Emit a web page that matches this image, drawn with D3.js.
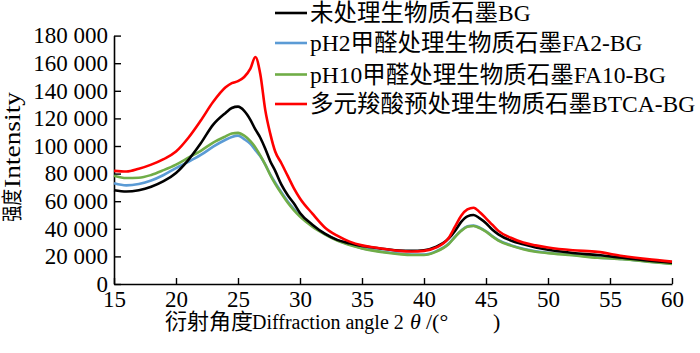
<!DOCTYPE html>
<html>
<head>
<meta charset="utf-8">
<script src="https://cdn.jsdelivr.net/npm/d3@7"></script>
<style>
  body { margin: 0; background: #fff; }
  svg text { font-family: "Liberation Serif", "Noto Sans CJK SC", serif; fill: #000; }
</style>
</head>
<body>
<div id="chart"></div>
<script>
// ---- data ----
const angles = [15, 16, 17, 18, 19, 20, 21, 22, 23, 24, 24.5, 25, 25.5, 26, 26.4, 26.8, 27.2, 27.6, 28, 28.5, 29, 29.5, 30,
  31, 32, 33, 34, 35, 36, 37, 38, 39, 40, 41, 42, 42.5, 43, 43.5, 44, 44.5, 45, 45.5, 46, 47, 48, 49, 50, 52, 54, 56, 58, 60];

const bg = [68000, 67000, 68000, 70500, 74500, 80500, 90000, 102000, 115500, 124000, 127500, 128500, 125500, 119000, 112000, 106000, 98000, 89000, 82000, 72000, 64500, 58500, 51500,
  43000, 36500, 32000, 29500, 27500, 26300, 25200, 24300, 24000, 24500, 27000, 33000, 38500, 45000, 49000, 50000, 47500, 44000, 39500, 36000, 31500, 28800, 26500, 24800, 22500, 21000, 19000, 17000, 15500];

const fa2 = [73000, 71500, 72500, 75000, 79000, 84000, 88500, 93500, 99500, 104500, 106500, 107500, 105000, 101500, 97000, 92500, 86500, 79500, 73500, 66500, 60000, 54500, 49500,
  42000, 36300, 31800, 28600, 26000, 24300, 23000, 22000, 21400, 21400, 23800, 29300, 34300, 38800, 41800, 42300, 40800, 38200, 34800, 31800, 28100, 25500, 23700, 22700, 21000, 19300, 18100, 16400, 14800];

const fa10 = [78500, 76800, 77000, 79000, 82500, 86500, 91500, 96500, 102500, 107000, 109000, 109500, 107500, 103500, 99000, 93000, 86500, 79000, 72500, 65500, 59000, 53500, 48800,
  41500, 36000, 31500, 28300, 25800, 24000, 22600, 21600, 21000, 21000, 23500, 29000, 34000, 38500, 41500, 42000, 40500, 37900, 34500, 31500, 27800, 25200, 23400, 22400, 20800, 19000, 17900, 16200, 14500];

const btca = [82000, 81500, 83500, 86500, 90500, 96000, 106000, 118500, 132000, 142500, 145500, 147000, 150000, 156000, 164500, 152000, 126000, 109000, 96000, 87500, 78500, 69500, 62000,
  51000, 41000, 35000, 30700, 28000, 26500, 25200, 24000, 23500, 24000, 26500, 33500, 41500, 49500, 54000, 55300, 52000, 47600, 43000, 38500, 33500, 30000, 28000, 26500, 24500, 23300, 20300, 18000, 16200];

const seriesNames = ["未处理生物质石墨BG", "pH2甲醛处理生物质石墨FA2-BG", "pH10甲醛处理生物质石墨FA10-BG", "多元羧酸预处理生物质石墨BTCA-BG"];
const seriesColors = ["#000000", "#5b9bd5", "#70ad47", "#ff0000"];
const seriesValues = [bg, fa2, fa10, btca];

const xTicks = [15, 20, 25, 30, 35, 40, 45, 50, 55, 60];
const yTicks = [0, 20000, 40000, 60000, 80000, 100000, 120000, 140000, 160000, 180000];

// ---- set-up ----
const W = 700, H = 353;
const plotL = 114, plotR = 672, plotT = 35.6, plotB = 284;

const x = d3.scaleLinear().domain([15, 60]).range([plotL, plotR]);
const y = d3.scaleLinear().domain([0, 180000]).range([plotB, plotT]);

const fmt = d => d3.format(",")(d).replace(/,/g, " ");

const svg = d3.select("#chart").append("svg")
  .attr("width", W)
  .attr("height", H);

// ---- axes ----
const yAxis = svg.append("g")
  .attr("transform", "translate(" + plotL + ",0)")
  .call(d3.axisLeft(y).tickValues(yTicks).tickFormat(fmt).tickSize(-7).tickSizeOuter(0).tickPadding(6));

const xAxis = svg.append("g")
  .attr("transform", "translate(0," + plotB + ")")
  .call(d3.axisBottom(x).tickValues(xTicks).tickSize(-6).tickSizeOuter(0).tickPadding(7));

[yAxis, xAxis].forEach(a => {
  a.select(".domain").attr("stroke", "#000").attr("stroke-width", 1.6);
  a.selectAll(".tick line").attr("stroke", "#000").attr("stroke-width", 1.4);
  a.selectAll(".tick text")
    .style("font-size", "23px")
    .style("font-family", "'Liberation Serif', serif");
});

// ---- lines (blue, green, black, red on top) ----
const line = d3.line()
  .x((d, i) => x(angles[i]))
  .y(d => y(d))
  .curve(d3.curveMonotoneX);

[1, 2, 0, 3].forEach(k => {
  svg.append("path")
    .datum(seriesValues[k])
    .attr("fill", "none")
    .attr("stroke", seriesColors[k])
    .attr("stroke-width", 2.6)
    .attr("stroke-linejoin", "round")
    .attr("d", line);
});

// ---- legend ----
const legendY = [13, 43, 74.5, 104];
const legend = svg.append("g").attr("class", "legend");
seriesNames.forEach((name, i) => {
  legend.append("line")
    .attr("x1", 275).attr("x2", 307)
    .attr("y1", legendY[i]).attr("y2", legendY[i])
    .attr("stroke", seriesColors[i])
    .attr("stroke-width", 2.6);
  legend.append("text")
    .attr("x", 310)
    .attr("y", legendY[i])
    .attr("dominant-baseline", "central")
    .style("font-size", "23.5px")
    .text(name);
});

// ---- axis titles ----
const yt = svg.append("g").attr("transform", "translate(12,222) rotate(-90)");
yt.append("text")
  .attr("x", 0).attr("y", 0)
  .attr("dominant-baseline", "central")
  .attr("textLength", 33).attr("lengthAdjust", "spacingAndGlyphs")
  .style("font-size", "21px")
  .text("强度");
yt.append("text")
  .attr("x", 34).attr("y", 0)
  .attr("dominant-baseline", "central")
  .attr("textLength", 96).attr("lengthAdjust", "spacingAndGlyphs")
  .style("font-size", "23px")
  .text("Intensity");

const xt = svg.append("text")
  .attr("y", 329)
  .style("font-size", "22px");
xt.append("tspan").attr("x", 165).text("衍射角度");
xt.append("tspan").attr("x", 252).style("font-size", "20px").text("Diffraction angle 2");
xt.append("tspan").attr("x", 410).style("font-style", "italic").text("θ");
xt.append("tspan").attr("x", 426).text("/(°");
xt.append("tspan").attr("x", 493).text(")");
</script>
</body>
</html>
